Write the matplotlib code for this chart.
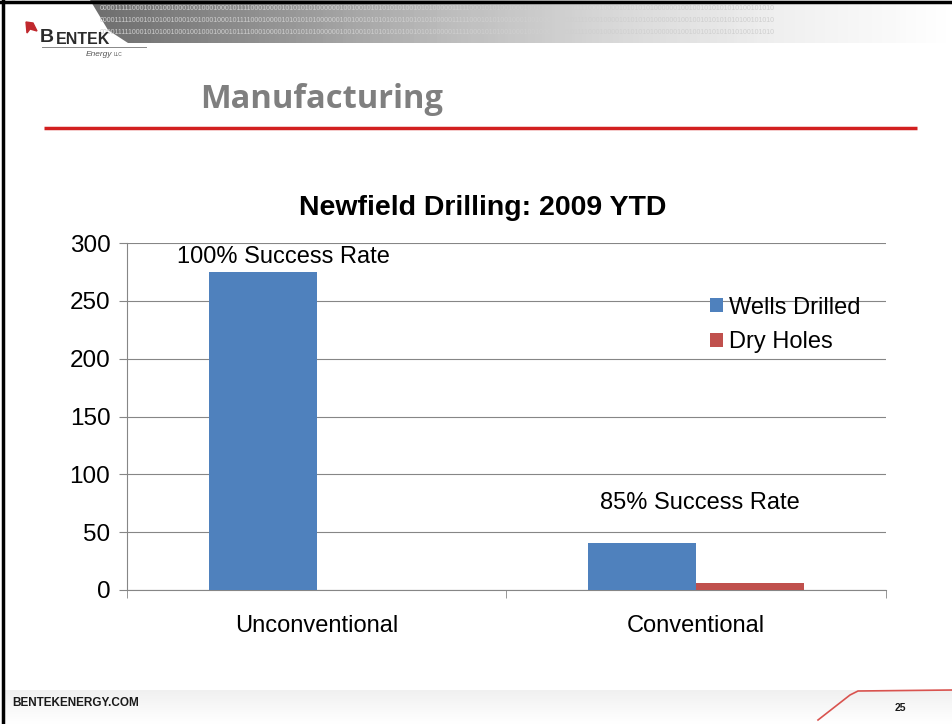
import numpy as np
import matplotlib
matplotlib.use("Agg")
import matplotlib.pyplot as plt
from matplotlib.patches import Polygon

plt.rcParams['font.family'] = ['Liberation Sans', 'DejaVu Sans']

categories = ["Unconventional", "Conventional"]
wells_drilled = [275, 41]
dry_holes = [0, 6]
series_names = ["Wells Drilled", "Dry Holes"]
notes = ["100% Success Rate", "85% Success Rate"]
y_ticks = [0, 50, 100, 150, 200, 250, 300]

BLUE = "#4f81bd"
RED = "#c0504d"
W, H = 953, 724


def main():
    fig = plt.figure(figsize=(W / 100, H / 100), dpi=100)

    # slide background layer, pixel coords
    bg = fig.add_axes([0, 0, 1, 1])
    bg.set_xlim(0, W)
    bg.set_ylim(H, 0)
    bg.axis("off")

    # header banner with gradient
    grad = np.linspace(0, 1, 256).reshape(1, -1)
    banner = bg.imshow(grad, cmap="Greys_r", vmin=-0.55, vmax=1.0, extent=[90, W, 43, 0],
                       aspect="auto", zorder=0)
    clip = Polygon([[90, 0], [W, 0], [W, 43], [128, 43], [108, 30]], closed=True,
                   transform=bg.transData)
    banner.set_clip_path(clip)
    bits = "0000111110001010100100010010001000101111000100001010101010000001001001010101010100101010"
    for k, yy in enumerate([8, 20, 32]):
        t = bg.text(100, yy, bits * 2, fontsize=5, color="#cfcfcf", va="center",
                    ha="left", zorder=1)
        t.set_clip_path(clip)

    # frame lines
    bg.plot([3, 3], [0, H], color="black", lw=2.5, zorder=5)
    bg.plot([0, W], [2, 2], color="black", lw=2.5, zorder=5)

    # logo
    bg.add_patch(Polygon([[26, 22], [33, 23], [37, 31], [30, 29], [27, 33]], closed=True,
                         color="#c0282d", zorder=3))
    bg.text(40, 38, "B", fontsize=14, fontweight="bold", color="#2b2b2b",
            va="center", ha="left")
    bg.text(56, 39, "ENTEK", fontsize=11.5, fontweight="bold", color="#2b2b2b",
            va="center", ha="left")
    bg.plot([42, 146], [47, 47], color="#888888", lw=0.7)
    bg.text(112, 54, "Energy", fontsize=6, style="italic", color="#555555",
            va="center", ha="right")
    bg.text(114, 55, "LLC", fontsize=3.5, color="#555555", va="center", ha="left")

    # section heading and red rule
    bg.text(200, 100, "Manufacturing", fontsize=23.5, fontweight="bold", color="#7f7f7f",
            family="Open Sans", va="center", ha="left")
    bg.plot([44, 917], [128, 128], color="#d21f1f", lw=2.5, solid_capstyle="butt")

    # footer band
    fgrad = np.linspace(0, 1, 64).reshape(-1, 1)
    bg.imshow(fgrad, cmap="Greys", vmin=0, vmax=8, extent=[4, W, 690, H], aspect="auto",
              zorder=0)
    bg.text(12, 703, "BENTEKENERGY.COM", fontsize=8.5, fontweight="bold", color="#1a1a1a",
            va="center", ha="left")
    bg.text(900, 708, "25", fontsize=7.5, fontweight="bold", color="#1a1a1a",
            va="center", ha="center")
    bg.plot([818, 850, 858, W], [720, 695, 691, 690], color="#d9534f", lw=1.2)

    # chart
    ax = fig.add_axes([127 / W, 1 - 590 / H, (886 - 127) / W, (590 - 243) / H])
    x = np.arange(len(categories))
    bw = 0.285
    ax.bar(x - bw / 2, wells_drilled, bw, color=BLUE, label=series_names[0], zorder=3)
    ax.bar(x + bw / 2, dry_holes, bw, color=RED, label=series_names[1], zorder=3)

    ax.set_xlim(-0.5, 1.5)
    ax.set_ylim(0, 300)
    ax.set_yticks(y_ticks)
    ax.set_xticks(x)
    ax.set_xticklabels(categories, fontsize=17)
    ax.tick_params(axis="x", length=0, pad=18)
    ax.set_xticks([-0.5, 0.5, 1.5], minor=True)
    ax.tick_params(axis="x", which="minor", length=6, color="#868686")
    ax.tick_params(axis="y", labelsize=17.5, length=6, color="#868686", pad=6)
    ax.yaxis.grid(True, color="#868686", lw=0.8, zorder=0)
    for s in ["top", "right"]:
        ax.spines[s].set_visible(False)
    ax.spines["left"].set_color("#868686")
    ax.spines["bottom"].set_color("#868686")

    ax.text(-0.089, 288, notes[0], fontsize=17, ha="center", va="center")
    ax.text(1.01, 75, notes[1], fontsize=17, ha="center", va="center")

    fig.text(483 / W, 1 - 208 / H, "Newfield Drilling: 2009 YTD", fontsize=20.5,
             fontweight="bold", ha="center", va="center")

    ax.legend(loc="upper left", bbox_to_anchor=(0.756, 0.873), frameon=False, fontsize=17,
              handlelength=0.55, handleheight=0.55, handletextpad=0.25, labelspacing=0.55,
              borderaxespad=0)

    fig.savefig("out.png", dpi=100)


if __name__ == "__main__":
    main()
